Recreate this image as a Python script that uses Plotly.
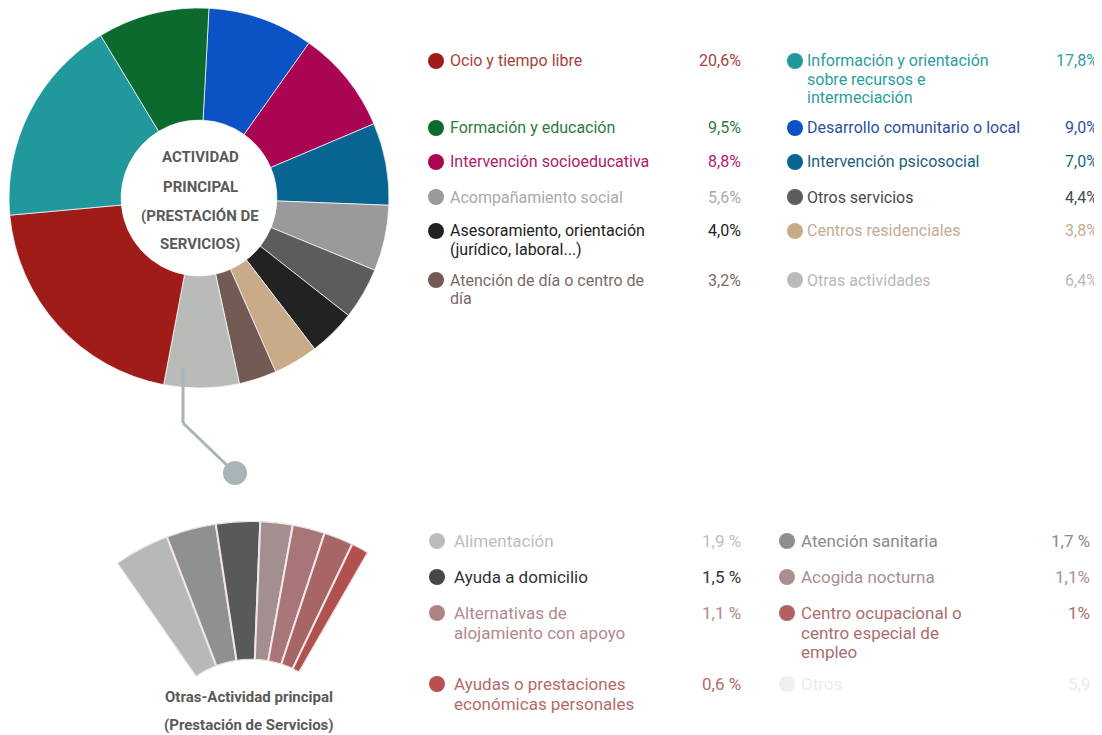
import math
import plotly.graph_objects as go

# The page body has an 8px default margin, so the figure is placed at (8, 8)
OFF = 8
W, H = 1094, 748

# ---------------- data ----------------
# main pie, in drawing order (clockwise from 12 o'clock)
main_labels = [
    "Desarrollo comunitario o local",
    "Intervención socioeducativa",
    "Intervención psicosocial",
    "Acompañamiento social",
    "Otros servicios",
    "Asesoramiento, orientación<br>(jurídico, laboral...)",
    "Centros residenciales",
    "Atención de día o centro de<br>día",
    "Otras actividades",
    "Ocio y tiempo libre",
    "Información y orientación<br>sobre recursos e<br>intermeciación",
    "Formación y educación",
]
main_values = [9.0, 8.8, 7.0, 5.6, 4.4, 4.0, 3.8, 3.2, 6.4, 20.6, 17.8, 9.5]
main_colors = ["#0b52c4", "#aa0552", "#086591", "#9a9a9a", "#5c5c5c", "#222222",
               "#c9ab8a", "#735a55", "#b9bbb8", "#a01c19", "#21999c", "#0d6a2e"]
main_text_colors = ["#2d50a0", "#b0206a", "#1a6080", "#aaaaaa", "#4a4a4a", "#222222",
                    "#c5ac94", "#7a6a68", "#b8b8b8", "#a8403a", "#2a9ea0", "#2e7a45"]

# sub-breakdown of "Otras actividades", fan order left to right
sub_labels = [
    "Alimentación",
    "Atención sanitaria",
    "Ayuda a domicilio",
    "Acogida nocturna",
    "Alternativas de<br>alojamiento con apoyo",
    "Centro ocupacional o<br>centro especial de<br>empleo",
    "Ayudas o prestaciones<br>económicas personales",
]
sub_values = [1.9, 1.7, 1.5, 1.1, 1.1, 1.0, 0.6]
sub_value_labels = ["1,9 %", "1,7 %", "1,5 %", "1,1%", "1,1 %", "1%", "0,6 %"]
sub_colors = ["#b7b9b6", "#8e918f", "#58595b", "#a38f90", "#a87678", "#a86565", "#b0504f"]
sub_dot_colors = ["#bcbcba", "#8e8e8e", "#474747", "#a89090", "#ad8486", "#b06262", "#b85050"]
sub_text_colors = ["#bdbdbd", "#8a8a8a", "#333333", "#a89090", "#b08a8c", "#aa6e6e", "#b56a6a"]

extra_label = "Otros"
extra_value_label = "5,9"

center_lines = ["ACTIVIDAD", "PRINCIPAL", "(PRESTACIÓN DE", "SERVICIOS)"]
fan_caption = ["Otras-Actividad principal", "(Prestación de Servicios)"]


# ---------------- layout helpers (screen pixels -> paper) ----------------
def px(x):
    return (x - OFF) / W


def py(y):
    return 1 - (y - OFF) / H


FONT = "Roboto, 'Open Sans', sans-serif"

fig = go.Figure()

# main donut
fig.add_trace(go.Pie(
    labels=[l.replace("<br>", " ") for l in main_labels],
    values=main_values, sort=False, direction="clockwise", rotation=3, hole=0.41,
    marker=dict(colors=main_colors, line=dict(color="rgba(255,255,255,0.7)", width=1)),
    textinfo="none", showlegend=False, hoverinfo="label+percent",
    domain=dict(x=[px(9), px(389)], y=[py(388), py(8)]),
))

# fan (barpolar on a restricted sector)
sector = [60.1, 124.8]
span = sector[1] - sector[0]
k = span / sum(sub_values)
thetas, widths = [], []
cum = 0.0
for v in sub_values:
    thetas.append(k * (cum + v / 2))
    widths.append(k * v)
    cum += v
fig.add_trace(go.Barpolar(
    r=[1] * len(sub_values), theta=thetas, width=widths,
    marker=dict(color=sub_colors, line=dict(color="#f2e6e6", width=2)),
    hovertext=[l.replace("<br>", " ") for l in sub_labels], hoverinfo="text",
    showlegend=False, subplot="polar",
))
R_fan = 235
cx_fan = 251
x_left = cx_fan + math.cos(math.radians(sector[1])) * R_fan
x_right = cx_fan + math.cos(math.radians(sector[0])) * R_fan
fig.update_layout(polar=dict(
    domain=dict(x=[px(x_left), px(x_right)], y=[0, R_fan / H]),
    sector=sector, hole=0.41, bgcolor="rgba(0,0,0,0)",
    radialaxis=dict(visible=False, range=[0, 1]),
    angularaxis=dict(visible=False, rotation=sector[1], direction="clockwise",
                     thetaunit="degrees"),
))

annotations = []
shapes = []

# center text of donut
for txt, y in zip(center_lines, [157, 187, 216, 244]):
    annotations.append(dict(x=px(200), y=py(y), xref="paper", yref="paper",
                            text="<b>" + txt + "</b>", showarrow=False,
                            xanchor="center", yanchor="middle",
                            font=dict(family=FONT, size=15, color="#5a5a5a")))

# fan caption
for txt, y in zip(fan_caption, [697, 725]):
    annotations.append(dict(x=px(249), y=py(y), xref="paper", yref="paper",
                            text="<b>" + txt + "</b>", showarrow=False,
                            xanchor="center", yanchor="middle",
                            font=dict(family=FONT, size=15, color="#5a5a5a")))

# connector from "Otras actividades" to fan
conn = "#a9b4b9"
shapes.append(dict(type="line", xref="paper", yref="paper", x0=px(183), y0=py(368),
                   x1=px(183), y1=py(423), line=dict(color=conn, width=3)))
shapes.append(dict(type="line", xref="paper", yref="paper", x0=px(183), y0=py(423),
                   x1=px(235), y1=py(473), line=dict(color=conn, width=3)))
shapes.append(dict(type="circle", xref="paper", yref="paper", x0=px(223), y0=py(485),
                   x1=px(247), y1=py(461), fillcolor=conn, line=dict(width=0)))


def legend_item(x_dot, x_text, x_pct, y, label, pct, dot_color, txt_color, size,
                spacing, r=8):
    shapes.append(dict(type="circle", xref="paper", yref="paper",
                       x0=px(x_dot - r), x1=px(x_dot + r), y0=py(y + r), y1=py(y - r),
                       fillcolor=dot_color, line=dict(width=0)))
    for j, line in enumerate(label.split("<br>")):
        annotations.append(dict(x=px(x_text), y=py(y + j * spacing), xref="paper",
                                yref="paper", text=line, showarrow=False,
                                xanchor="left", yanchor="middle",
                                font=dict(family=FONT, size=size, color=txt_color)))
    annotations.append(dict(x=px(x_pct), y=py(y), xref="paper", yref="paper",
                            text=pct, showarrow=False, xanchor="right", yanchor="middle",
                            font=dict(family=FONT, size=size, color=txt_color)))


def fmt(v):
    return f"{v:.1f}".replace(".", ",") + "%"


# top legend slots (label index -> column, y)
top_slots = {
    9: ("L", 61), 11: ("L", 128), 1: ("L", 162), 3: ("L", 197), 5: ("L", 231), 7: ("L", 280),
    10: ("R", 61), 0: ("R", 128), 2: ("R", 162), 4: ("R", 197), 6: ("R", 231), 8: ("R", 280),
}
cols_top = {"L": (436, 448, 743), "R": (795, 805, 1100)}
for i, (col, y) in top_slots.items():
    xd, xt, xp = cols_top[col]
    legend_item(xd, xt, xp, y, main_labels[i], fmt(main_values[i]),
                main_colors[i], main_text_colors[i], 16, 18)

# bottom legend slots
bottom_slots = {
    0: ("L", 541), 2: ("L", 577), 4: ("L", 613), 6: ("L", 684),
    1: ("R", 541), 3: ("R", 577), 5: ("R", 613),
}
cols_bot = {"L": (437, 452, 743), "R": (787, 799, 1092)}
for i, (col, y) in bottom_slots.items():
    xd, xt, xp = cols_bot[col]
    legend_item(xd, xt, xp, y, sub_labels[i], sub_value_labels[i],
                sub_dot_colors[i], sub_text_colors[i], 17, 19.5)
xd, xt, xp = cols_bot["R"]
legend_item(xd, xt, xp, 684, extra_label, extra_value_label, "#efefef", "#ececec", 17, 19.5)

fig.update_layout(
    width=W, height=H,
    margin=dict(l=0, r=0, t=0, b=0),
    paper_bgcolor="white", plot_bgcolor="white",
    annotations=annotations, shapes=shapes,
    showlegend=False,
)

fig.write_html("out.html")
